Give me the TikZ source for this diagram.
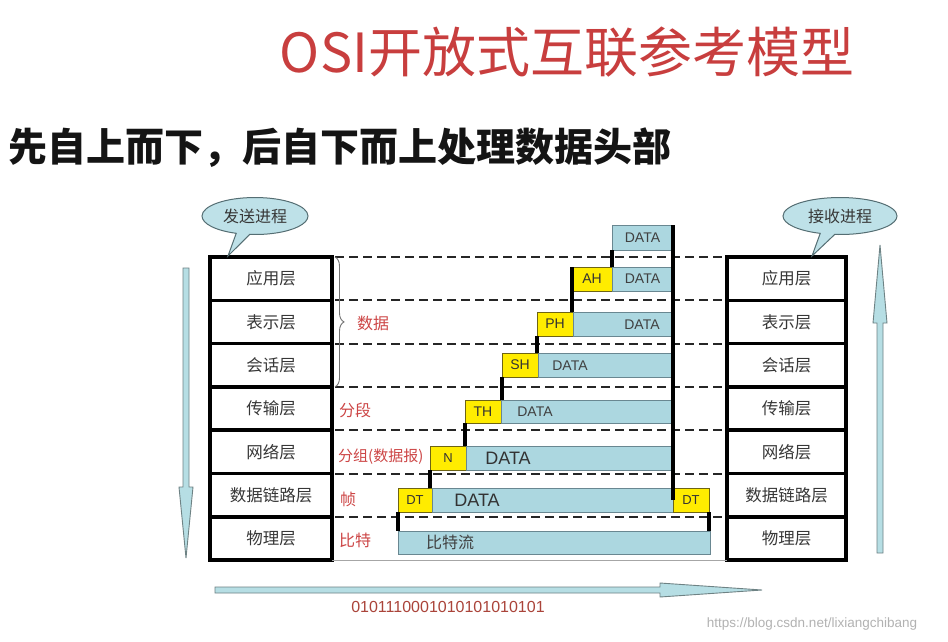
\documentclass[tikz,border=0pt]{standalone}
\usepackage{fontspec}
\setmainfont{Liberation Sans}
\newfontfamily\cjk{Noto Sans CJK SC}
\usetikzlibrary{shapes.callouts,decorations.pathreplacing}
\definecolor{titlered}{RGB}{200,62,62}
\definecolor{lblred}{RGB}{205,70,70}
\definecolor{bitred}{RGB}{170,68,58}
\definecolor{bluefill}{RGB}{172,215,224}
\definecolor{bluebd}{RGB}{105,135,145}
\definecolor{yelfill}{RGB}{255,236,0}
\definecolor{yelbd}{RGB}{110,100,20}
\definecolor{bubfill}{RGB}{190,225,232}
\definecolor{bubbd}{RGB}{85,110,115}
\definecolor{arrfill}{RGB}{182,222,228}
\definecolor{arrbd}{RGB}{110,130,132}
\definecolor{txtgray}{RGB}{55,55,55}
\begin{document}
\begin{tikzpicture}[x=1pt,y=-1pt,
  layer/.style={draw=black, line width=3.5pt, minimum height=43.3pt, inner sep=0pt, outer sep=0pt, anchor=north west, font=\cjk\fontsize{16.5}{18}\selectfont, text=txtgray},
  lleft/.style={layer, minimum width=122pt},
  lright/.style={layer, minimum width=119pt},
  blu/.style={draw=bluebd, fill=bluefill, line width=0.8pt, inner sep=0pt, outer sep=0pt, anchor=north west, font=\fontsize{14}{16}\selectfont, text=black!75},
  yel/.style={draw=yelbd, fill=yelfill, line width=0.8pt, inner sep=0pt, outer sep=0pt, anchor=north west, font=\fontsize{14}{16}\selectfont, text=black!80},
  dtxt/.style={inner sep=0pt, font=\fontsize{14}{16}\selectfont, text=black!75},
  bigtxt/.style={inner sep=0pt, font=\fontsize{18}{20}\selectfont, text=black!80},
  redlbl/.style={inner sep=0pt, anchor=west, font=\cjk\fontsize{16}{18}\selectfont, text=lblred},
  tick/.style={draw=black, line width=3.5pt},
  dline/.style={draw=black!85, line width=2pt, dash pattern=on 9pt off 5pt},
  bubble/.style={ellipse callout, draw=bubbd, fill=bubfill, line width=1pt, inner sep=0pt, font=\cjk\fontsize{16}{18}\selectfont, text=txtgray},
  arrowshape/.style={draw=arrbd, fill=arrfill, line width=0.9pt, line join=miter}
]
\useasboundingbox[fill=white] (0,0) rectangle (948,641);

% titles
\node[font=\cjk\fontsize{54}{58}\selectfont, text=titlered, inner sep=0pt] (title) at (567,52) {OSI开放式互联参考模型};
\node[font=\cjk\bfseries\fontsize{39}{41}\selectfont, text=black!92, inner sep=0pt, anchor=west] (sub) at (8,148) {先自上而下，后自下而上处理数据头部};

% left stack
\node[lleft] (L1) at (210,257) {应用层};
\node[lleft] (L2) at (210,300.3) {表示层};
\node[lleft] (L3) at (210,343.6) {会话层};
\node[lleft] (L4) at (210,386.9) {传输层};
\node[lleft] (L5) at (210,430.2) {网络层};
\node[lleft] (L6) at (210,473.5) {数据链路层};
\node[lleft] (L7) at (210,516.8) {物理层};

% right stack
\node[lright] (R1) at (727,257) {应用层};
\node[lright] (R2) at (727,300.3) {表示层};
\node[lright] (R3) at (727,343.6) {会话层};
\node[lright] (R4) at (727,386.9) {传输层};
\node[lright] (R5) at (727,430.2) {网络层};
\node[lright] (R6) at (727,473.5) {数据链路层};
\node[lright] (R7) at (727,516.8) {物理层};

% dashed boundaries
\foreach \i in {1,...,7} {
  \draw[dline] ([xshift=3pt]L\i.north east) -- ([xshift=-2pt]R\i.north west);
}
\draw[draw=black!35, line width=1pt] (L7.south east) -- (R7.south west);

% brace and red labels
\draw[draw=black!55, line width=0.9pt, decorate, decoration={brace, amplitude=9pt}] ([xshift=3pt]L1.north east) -- ([xshift=3pt]L3.south east);
\node[redlbl] (lbl1) at (357,323) {数据};
\node[redlbl] (lbl2) at (339,410) {分段};
\node[redlbl, font=\cjk\fontsize{15}{16}\selectfont] (lbl3) at (338,457) {分组(数据报)};
\node[redlbl] (lbl4) at (340,499) {帧};
\node[redlbl] (lbl5) at (339,540) {比特};

% data units
\node[blu, minimum width=61pt, minimum height=25pt] (d1) at (612,225) {DATA};
\node[yel, minimum width=40pt, minimum height=24pt] (h2) at (572,267) {AH};
\node[blu, minimum width=61pt, minimum height=24pt] (d2) at (612,267) {DATA};
\node[yel, minimum width=36pt, minimum height=24pt] (h3) at (537,312) {PH};
\node[blu, minimum width=100pt, minimum height=24pt] (d3) at (573,312) {};
\node[dtxt] (t3) at (642,324.5) {DATA};
\node[yel, minimum width=36pt, minimum height=24pt] (h4) at (502,353) {SH};
\node[blu, minimum width=135pt, minimum height=24pt] (d4) at (538,353) {};
\node[dtxt] (t4) at (570,365.5) {DATA};
\node[yel, minimum width=36pt, minimum height=23pt] (h5) at (465,400) {TH};
\node[blu, minimum width=172pt, minimum height=23pt] (d5) at (501,400) {};
\node[dtxt] (t5) at (535,412) {DATA};
\node[yel, minimum width=36pt, minimum height=24pt, font=\fontsize{13}{15}\selectfont] (h6) at (430,446) {N};
\node[blu, minimum width=207pt, minimum height=24pt] (d6) at (466,446) {};
\node[bigtxt] (t6) at (508,458.5) {DATA};
\node[yel, minimum width=34pt, minimum height=24pt, font=\fontsize{13}{15}\selectfont] (h7) at (398,488) {DT};
\node[blu, minimum width=241pt, minimum height=24pt] (d7) at (432,488) {};
\node[bigtxt] (t7) at (477,500.5) {DATA};
\node[yel, minimum width=36pt, minimum height=24pt, font=\fontsize{13}{15}\selectfont] (h7b) at (673,488) {DT};
\node[blu, minimum width=312pt, minimum height=23pt] (d8) at (398,531) {};
\node[dtxt, font=\cjk\fontsize{16}{18}\selectfont] (t8) at (450,542.5) {比特流};

% ticks
\draw[tick] (d1.north east) -- (d1.north east |- h7b.center);
\draw[tick] (d1.south west) -- (d1.south west |- h2.north);
\draw[tick] (h2.north west) -- (h2.north west |- h3.north);
\draw[tick] (h3.south west) -- (h3.south west |- h4.north);
\draw[tick] (h4.south west) -- (h4.south west |- h5.north);
\draw[tick] (h5.south west) -- (h5.south west |- h6.north);
\draw[tick] (h6.south west) -- (h6.south west |- h7.north);
\draw[tick] (h7.south west) -- (h7.south west |- d8.north);
\draw[tick] (h7b.south east) -- (h7b.south east |- d8.north);

% bubbles
\node[bubble, minimum width=106pt, minimum height=37pt, callout absolute pointer={(228,256)}] (sb) at (255,216) {发送进程};
\node[bubble, minimum width=114pt, minimum height=37pt, callout absolute pointer={(812,256)}] (rb) at (840,216) {接收进程};

% big arrows
\draw[arrowshape] (183,268) -- (189,268) -- (189,487) -- (193,487) -- (186,558) -- (179,487) -- (183,487) -- cycle;
\draw[arrowshape] (877,553) -- (883,553) -- (883,323) -- (887,323) -- (880,245) -- (873,323) -- (877,323) -- cycle;
\draw[arrowshape] (215,587) -- (660,587) -- (660,583) -- (762,590) -- (660,597) -- (660,593) -- (215,593) -- cycle;

% bottom texts
\node[inner sep=0pt, font=\fontsize{16}{18}\selectfont, text=bitred] (bits) at (448,607) {0101110001010101010101};
\node[inner sep=0pt, font=\fontsize{13.5}{15}\selectfont, text=black!30] (wm) at (812,624) {https://blog.csdn.net/lixiangchibang};
\end{tikzpicture}
\end{document}
